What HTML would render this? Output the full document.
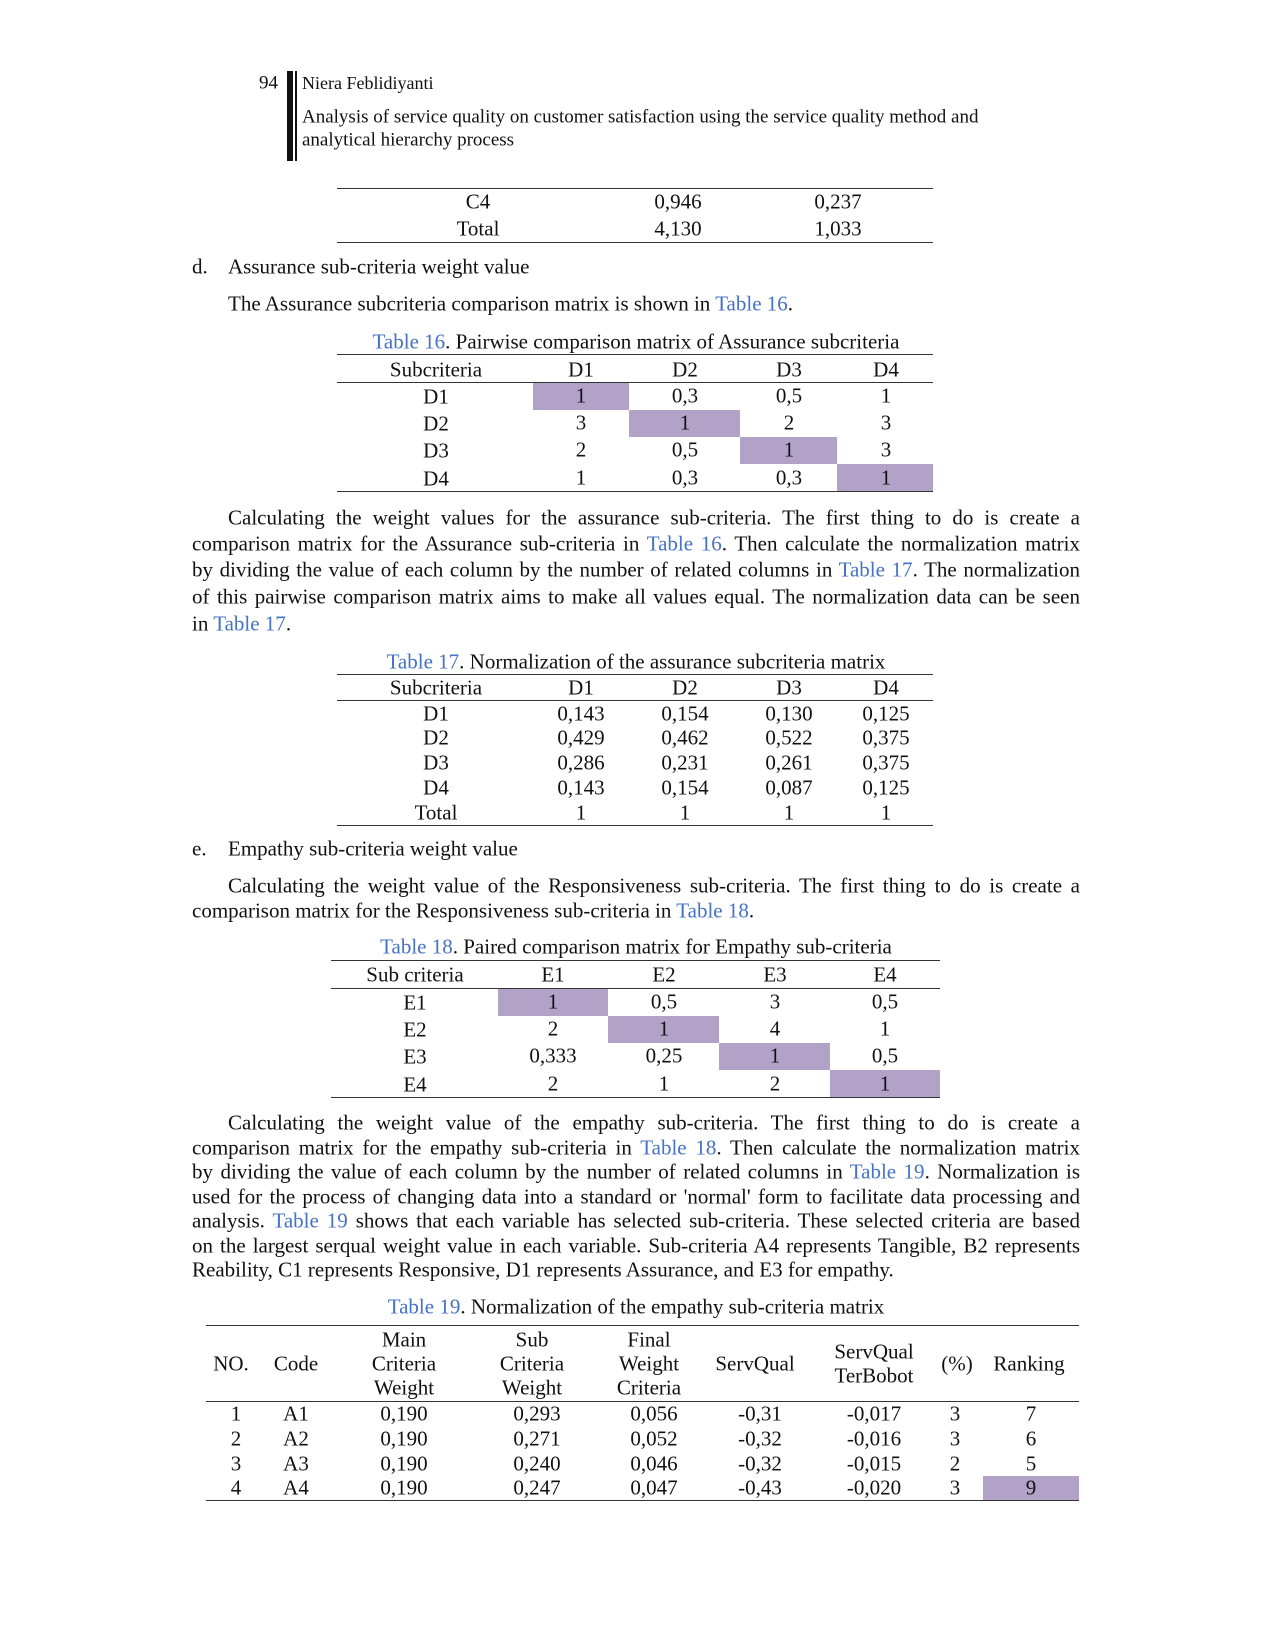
<!DOCTYPE html>
<html><head><meta charset="utf-8">
<style>
body{margin:0;background:#fff;}
#p{position:relative;width:1275px;height:1650px;overflow:hidden;font-family:"Liberation Serif",serif;color:#111;font-size:21px;}
.c{position:absolute;transform:translate(-50%,-50%);white-space:nowrap;line-height:1;}
.l{position:absolute;transform:translateY(-50%);white-space:nowrap;line-height:1;}
.j{position:absolute;left:192px;width:888px;text-align:justify;text-align-last:justify;transform:translateY(-50%);line-height:1;white-space:nowrap;}
.j.i{left:228px;width:852px;}
.h{position:absolute;height:1.3px;background:#333;}
.pu{position:absolute;background:#b3a2c8;}
.b{color:#4472c4;}
</style></head><body><div id="p">
<div class="l" style="left:259px;top:83px;font-size:19px">94</div>
<div style="position:absolute;left:287px;top:71px;width:6px;height:90px;background:#111"></div>
<div style="position:absolute;left:295px;top:71px;width:1.5px;height:90px;background:#111"></div>
<div class="l" style="left:302px;top:83px;font-size:18px">Niera Feblidiyanti</div>
<div class="l" style="left:302px;top:117px;font-size:19px">Analysis of service quality on customer satisfaction using the service quality method and</div>
<div class="l" style="left:302px;top:140px;font-size:19px">analytical hierarchy process</div>

<div class="h" style="left:337px;width:596px;top:188px"></div>
<div class="c" style="left:478px;top:202px">C4</div><div class="c" style="left:678px;top:202px">0,946</div><div class="c" style="left:838px;top:202px">0,237</div>
<div class="c" style="left:478px;top:229px">Total</div><div class="c" style="left:678px;top:229px">4,130</div><div class="c" style="left:838px;top:229px">1,033</div>
<div class="h" style="left:337px;width:596px;top:242px"></div>

<div class="l" style="left:192px;top:267px">d.</div>
<div class="l" style="left:228px;top:267px">Assurance sub-criteria weight value</div>
<div class="l" style="left:228px;top:304px">The Assurance subcriteria comparison matrix is shown in <span class="b">Table 16</span>.</div>

<div class="c" style="left:636px;top:342px"><span class="b">Table 16</span>. Pairwise comparison matrix of Assurance subcriteria</div>
<div class="h" style="left:337px;width:596px;top:354px"></div>
<div class="c" style="left:436px;top:370px">Subcriteria</div><div class="c" style="left:581px;top:370px">D1</div><div class="c" style="left:685px;top:370px">D2</div><div class="c" style="left:789px;top:370px">D3</div><div class="c" style="left:886px;top:370px">D4</div>
<div class="h" style="left:337px;width:596px;top:382px"></div>
<div class="pu" style="left:533px;width:96px;top:383px;height:27px"></div>
<div class="pu" style="left:629px;width:111px;top:410px;height:27px"></div>
<div class="pu" style="left:740px;width:97px;top:437px;height:27px"></div>
<div class="pu" style="left:837px;width:96px;top:464px;height:27px"></div>
<div class="c" style="left:436px;top:397px">D1</div><div class="c" style="left:581px;top:396px">1</div><div class="c" style="left:685px;top:396px">0,3</div><div class="c" style="left:789px;top:396px">0,5</div><div class="c" style="left:886px;top:396px">1</div>
<div class="c" style="left:436px;top:424px">D2</div><div class="c" style="left:581px;top:423px">3</div><div class="c" style="left:685px;top:423px">1</div><div class="c" style="left:789px;top:423px">2</div><div class="c" style="left:886px;top:423px">3</div>
<div class="c" style="left:436px;top:451px">D3</div><div class="c" style="left:581px;top:450px">2</div><div class="c" style="left:685px;top:450px">0,5</div><div class="c" style="left:789px;top:450px">1</div><div class="c" style="left:886px;top:450px">3</div>
<div class="c" style="left:436px;top:479px">D4</div><div class="c" style="left:581px;top:478px">1</div><div class="c" style="left:685px;top:478px">0,3</div><div class="c" style="left:789px;top:478px">0,3</div><div class="c" style="left:886px;top:478px">1</div>
<div class="h" style="left:337px;width:596px;top:491px"></div>

<div class="j i" style="top:518px">Calculating the weight values for the assurance sub-criteria. The first thing to do is create a</div>
<div class="j" style="top:544px">comparison matrix for the Assurance sub-criteria in <span class="b">Table 16</span>. Then calculate the normalization matrix</div>
<div class="j" style="top:570px">by dividing the value of each column by the number of related columns in <span class="b">Table 17</span>. The normalization</div>
<div class="j" style="top:597px">of this pairwise comparison matrix aims to make all values equal. The normalization data can be seen</div>
<div class="l" style="left:192px;top:624px">in <span class="b">Table 17</span>.</div>

<div class="c" style="left:636px;top:662px"><span class="b">Table 17</span>. Normalization of the assurance subcriteria matrix</div>
<div class="h" style="left:337px;width:596px;top:674px"></div>
<div class="c" style="left:436px;top:688px">Subcriteria</div><div class="c" style="left:581px;top:688px">D1</div><div class="c" style="left:685px;top:688px">D2</div><div class="c" style="left:789px;top:688px">D3</div><div class="c" style="left:886px;top:688px">D4</div>
<div class="h" style="left:337px;width:596px;top:700px"></div>
<div class="c" style="left:436px;top:714px">D1</div><div class="c" style="left:581px;top:714px">0,143</div><div class="c" style="left:685px;top:714px">0,154</div><div class="c" style="left:789px;top:714px">0,130</div><div class="c" style="left:886px;top:714px">0,125</div>
<div class="c" style="left:436px;top:738px">D2</div><div class="c" style="left:581px;top:738px">0,429</div><div class="c" style="left:685px;top:738px">0,462</div><div class="c" style="left:789px;top:738px">0,522</div><div class="c" style="left:886px;top:738px">0,375</div>
<div class="c" style="left:436px;top:763px">D3</div><div class="c" style="left:581px;top:763px">0,286</div><div class="c" style="left:685px;top:763px">0,231</div><div class="c" style="left:789px;top:763px">0,261</div><div class="c" style="left:886px;top:763px">0,375</div>
<div class="c" style="left:436px;top:788px">D4</div><div class="c" style="left:581px;top:788px">0,143</div><div class="c" style="left:685px;top:788px">0,154</div><div class="c" style="left:789px;top:788px">0,087</div><div class="c" style="left:886px;top:788px">0,125</div>
<div class="c" style="left:436px;top:813px">Total</div><div class="c" style="left:581px;top:813px">1</div><div class="c" style="left:685px;top:813px">1</div><div class="c" style="left:789px;top:813px">1</div><div class="c" style="left:886px;top:813px">1</div>
<div class="h" style="left:337px;width:596px;top:825px"></div>

<div class="l" style="left:192px;top:849px">e.</div>
<div class="l" style="left:228px;top:849px">Empathy sub-criteria weight value</div>
<div class="j i" style="top:886px">Calculating the weight value of the Responsiveness sub-criteria. The first thing to do is create a</div>
<div class="l" style="left:192px;top:911px">comparison matrix for the Responsiveness sub-criteria in <span class="b">Table 18</span>.</div>

<div class="c" style="left:636px;top:947px"><span class="b">Table 18</span>. Paired comparison matrix for Empathy sub-criteria</div>
<div class="h" style="left:331px;width:609px;top:960px"></div>
<div class="c" style="left:415px;top:975px">Sub criteria</div><div class="c" style="left:553px;top:975px">E1</div><div class="c" style="left:664px;top:975px">E2</div><div class="c" style="left:775px;top:975px">E3</div><div class="c" style="left:885px;top:975px">E4</div>
<div class="h" style="left:331px;width:609px;top:988px"></div>
<div class="pu" style="left:498px;width:110px;top:989px;height:27px"></div>
<div class="pu" style="left:608px;width:111px;top:1016px;height:27px"></div>
<div class="pu" style="left:719px;width:111px;top:1043px;height:27px"></div>
<div class="pu" style="left:830px;width:110px;top:1070px;height:27px"></div>
<div class="c" style="left:415px;top:1003px">E1</div><div class="c" style="left:553px;top:1002px">1</div><div class="c" style="left:664px;top:1002px">0,5</div><div class="c" style="left:775px;top:1002px">3</div><div class="c" style="left:885px;top:1002px">0,5</div>
<div class="c" style="left:415px;top:1030px">E2</div><div class="c" style="left:553px;top:1029px">2</div><div class="c" style="left:664px;top:1029px">1</div><div class="c" style="left:775px;top:1029px">4</div><div class="c" style="left:885px;top:1029px">1</div>
<div class="c" style="left:415px;top:1057px">E3</div><div class="c" style="left:553px;top:1056px">0,333</div><div class="c" style="left:664px;top:1056px">0,25</div><div class="c" style="left:775px;top:1056px">1</div><div class="c" style="left:885px;top:1056px">0,5</div>
<div class="c" style="left:415px;top:1085px">E4</div><div class="c" style="left:553px;top:1084px">2</div><div class="c" style="left:664px;top:1084px">1</div><div class="c" style="left:775px;top:1084px">2</div><div class="c" style="left:885px;top:1084px">1</div>
<div class="h" style="left:331px;width:609px;top:1097px"></div>

<div class="j i" style="top:1123px">Calculating the weight value of the empathy sub-criteria. The first thing to do is create a</div>
<div class="j" style="top:1148px">comparison matrix for the empathy sub-criteria in <span class="b">Table 18</span>. Then calculate the normalization matrix</div>
<div class="j" style="top:1172px">by dividing the value of each column by the number of related columns in <span class="b">Table 19</span>. Normalization is</div>
<div class="j" style="top:1197px">used for the process of changing data into a standard or 'normal' form to facilitate data processing and</div>
<div class="j" style="top:1221px">analysis. <span class="b">Table 19</span> shows that each variable has selected sub-criteria. These selected criteria are based</div>
<div class="j" style="top:1246px">on the largest serqual weight value in each variable. Sub-criteria A4 represents Tangible, B2 represents</div>
<div class="l" style="left:192px;top:1270px">Reability, C1 represents Responsive, D1 represents Assurance, and E3 for empathy.</div>

<div class="c" style="left:636px;top:1307px"><span class="b">Table 19</span>. Normalization of the empathy sub-criteria matrix</div>
<div class="h" style="left:206px;width:873px;top:1325px"></div>
<div class="c" style="left:231px;top:1364px">NO.</div>
<div class="c" style="left:296px;top:1364px">Code</div>
<div class="c" style="left:404px;top:1340px">Main</div><div class="c" style="left:404px;top:1364px">Criteria</div><div class="c" style="left:404px;top:1388px">Weight</div>
<div class="c" style="left:532px;top:1340px">Sub</div><div class="c" style="left:532px;top:1364px">Criteria</div><div class="c" style="left:532px;top:1388px">Weight</div>
<div class="c" style="left:649px;top:1340px">Final</div><div class="c" style="left:649px;top:1364px">Weight</div><div class="c" style="left:649px;top:1388px">Criteria</div>
<div class="c" style="left:755px;top:1364px">ServQual</div>
<div class="c" style="left:874px;top:1352px">ServQual</div><div class="c" style="left:874px;top:1376px">TerBobot</div>
<div class="c" style="left:957px;top:1364px">(%)</div>
<div class="c" style="left:1029px;top:1364px">Ranking</div>
<div class="h" style="left:206px;width:873px;top:1401px"></div>
<div class="pu" style="left:983px;width:96px;top:1476px;height:24px"></div>
<div class="c" style="left:236px;top:1414px">1</div><div class="c" style="left:296px;top:1414px">A1</div><div class="c" style="left:404px;top:1414px">0,190</div><div class="c" style="left:537px;top:1414px">0,293</div><div class="c" style="left:654px;top:1414px">0,056</div><div class="c" style="left:760px;top:1414px">-0,31</div><div class="c" style="left:874px;top:1414px">-0,017</div><div class="c" style="left:955px;top:1414px">3</div><div class="c" style="left:1031px;top:1414px">7</div>
<div class="c" style="left:236px;top:1439px">2</div><div class="c" style="left:296px;top:1439px">A2</div><div class="c" style="left:404px;top:1439px">0,190</div><div class="c" style="left:537px;top:1439px">0,271</div><div class="c" style="left:654px;top:1439px">0,052</div><div class="c" style="left:760px;top:1439px">-0,32</div><div class="c" style="left:874px;top:1439px">-0,016</div><div class="c" style="left:955px;top:1439px">3</div><div class="c" style="left:1031px;top:1439px">6</div>
<div class="c" style="left:236px;top:1464px">3</div><div class="c" style="left:296px;top:1464px">A3</div><div class="c" style="left:404px;top:1464px">0,190</div><div class="c" style="left:537px;top:1464px">0,240</div><div class="c" style="left:654px;top:1464px">0,046</div><div class="c" style="left:760px;top:1464px">-0,32</div><div class="c" style="left:874px;top:1464px">-0,015</div><div class="c" style="left:955px;top:1464px">2</div><div class="c" style="left:1031px;top:1464px">5</div>
<div class="c" style="left:236px;top:1488px">4</div><div class="c" style="left:296px;top:1488px">A4</div><div class="c" style="left:404px;top:1488px">0,190</div><div class="c" style="left:537px;top:1488px">0,247</div><div class="c" style="left:654px;top:1488px">0,047</div><div class="c" style="left:760px;top:1488px">-0,43</div><div class="c" style="left:874px;top:1488px">-0,020</div><div class="c" style="left:955px;top:1488px">3</div><div class="c" style="left:1031px;top:1488px">9</div>
<div class="h" style="left:206px;width:873px;top:1500px"></div>
</div></body></html>
